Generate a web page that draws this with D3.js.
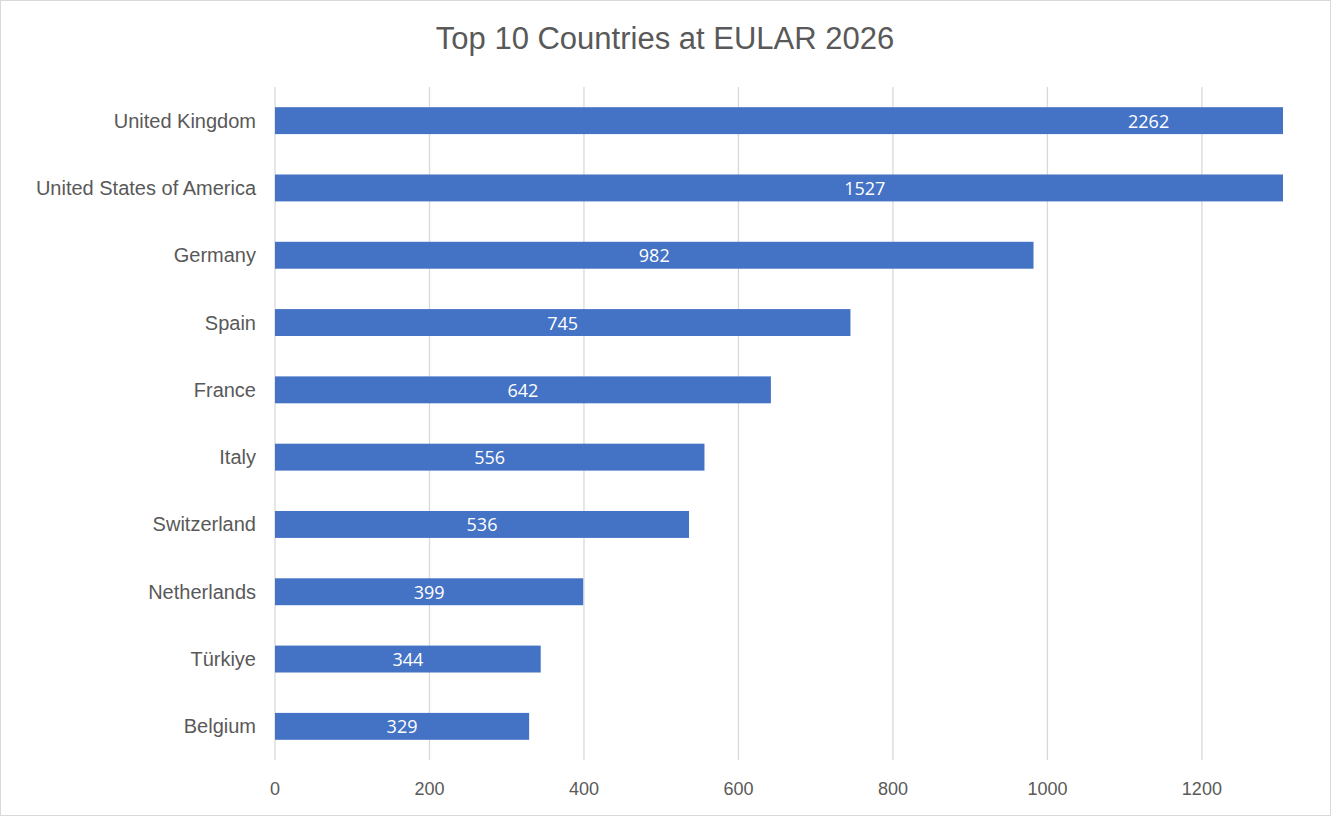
<!DOCTYPE html>
<html><head><meta charset="utf-8">
<script src="https://cdn.jsdelivr.net/npm/d3@7"></script>
<style>body{margin:0;background:#fff}</style>
</head><body>
<svg id="chart" width="1331" height="816"></svg>
<script>
var countries = ["United Kingdom", "United States of America", "Germany", "Spain", "France",
    "Italy", "Switzerland", "Netherlands", "Türkiye", "Belgium"];
var attendees = [2262, 1527, 982, 745, 642, 556, 536, 399, 344, 329];
var xTicks = [0, 200, 400, 600, 800, 1000, 1200];

var svg = d3.select("#chart");
var plotLeft = 275, plotRight = 1283, plotTop = 87, plotBottom = 760;

svg.append("rect").attr("x", 0.5).attr("y", 0.5).attr("width", 1330).attr("height", 815)
    .attr("fill", "#fff").attr("stroke", "#d9d9d9");

svg.append("text").attr("x", 665).attr("y", 49).attr("text-anchor", "middle")
    .attr("font-family", "Liberation Sans, Arial").attr("font-size", 31).attr("fill", "#595959")
    .text("Top 10 Countries at EULAR 2026");

var x = d3.scaleLinear().domain([0, 1305]).range([plotLeft, plotRight]);
var y = d3.scaleBand().domain(countries).range([plotTop, plotBottom]).paddingInner(0.6).paddingOuter(0.3);

// gridlines
svg.selectAll("line.grid").data(xTicks).enter().append("line")
    .attr("x1", d => x(d)).attr("x2", d => x(d)).attr("y1", plotTop).attr("y2", plotBottom)
    .attr("stroke", "#d9d9d9").attr("stroke-width", 1.3);

svg.append("clipPath").attr("id", "plot").append("rect")
    .attr("x", plotLeft).attr("y", plotTop).attr("width", plotRight - plotLeft).attr("height", plotBottom - plotTop);

var data = countries.map((c, i) => ({ c: c, v: attendees[i] }));

svg.append("g").attr("clip-path", "url(#plot)").selectAll("rect").data(data).enter().append("rect")
    .attr("x", x(0)).attr("y", d => y(d.c)).attr("width", d => x(d.v) - x(0))
    .attr("height", y.bandwidth()).attr("fill", "#4472c4");

svg.selectAll("text.val").data(data).enter().append("text")
    .attr("x", d => (x(0) + x(d.v)) / 2).attr("y", d => y(d.c) + y.bandwidth() / 2 + 7)
    .attr("text-anchor", "middle").attr("font-family", "Open Sans, Noto Sans").attr("font-size", 18)
    .attr("fill", "#fff").text(d => d.v);

svg.selectAll("text.cat").data(countries).enter().append("text")
    .attr("x", plotLeft - 19).attr("y", d => y(d) + y.bandwidth() / 2 + 7)
    .attr("text-anchor", "end").attr("font-family", "Liberation Sans, Arial").attr("font-size", 20)
    .attr("fill", "#595959").text(d => d);

svg.selectAll("text.tick").data(xTicks).enter().append("text")
    .attr("x", d => x(d)).attr("y", 795).attr("text-anchor", "middle")
    .attr("font-family", "Liberation Sans, Arial").attr("font-size", 18).attr("fill", "#595959")
    .text(d => d);
</script>
</body></html>
